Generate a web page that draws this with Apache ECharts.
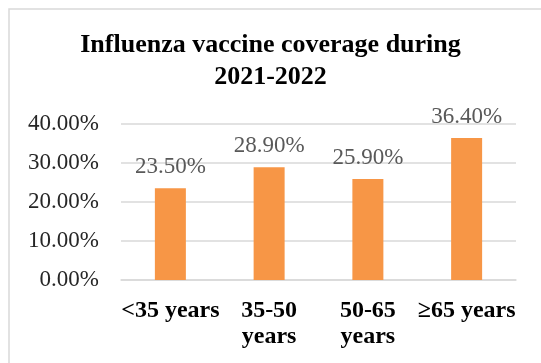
<!DOCTYPE html>
<html>
<head>
<meta charset="utf-8">
<script src="https://cdn.jsdelivr.net/npm/echarts@6/dist/echarts.min.js"></script>
<style>
  html, body { margin: 0; padding: 0; background: #fff; }
  #chartmain { width: 541px; height: 363px; }
</style>
</head>
<body>
<div id="chartmain"></div>
<script>
var categories = ['<35 years', '35-50 years', '50-65 years', '≥65 years'];
var coverage = [0.235, 0.289, 0.259, 0.364];
var yTicks = [0, 0.1, 0.2, 0.3, 0.4];

var serif = '"Liberation Serif", "Times New Roman", serif';

function pct(v) {
	return (v * 100).toFixed(2) + '%';
}

var option = {
	backgroundColor: '#fff',
	animation: false,
	graphic: [{
		type: 'rect',
		shape: { x: 9, y: 9, width: 600, height: 400 },
		style: { fill: 'none', stroke: '#d9d9d9', lineWidth: 1.5 },
		silent: true
	}],
	title: {
		text: 'Influenza vaccine coverage during\n2021-2022',
		left: 'center',
		top: 24,
		textStyle: {
			fontFamily: serif,
			fontWeight: 'bold',
			fontSize: 26,
			lineHeight: 32,
			color: '#000'
		}
	},
	grid: {
		left: 121,
		right: 25,
		top: 124,
		bottom: 83
	},
	xAxis: {
		type: 'category',
		data: categories,
		axisLine: { lineStyle: { color: '#d9d9d9', width: 1.5 } },
		axisTick: { show: false },
		axisLabel: {
			interval: 0,
			margin: 18,
			fontFamily: serif,
			fontWeight: 'bold',
			fontSize: 24,
			lineHeight: 26,
			color: '#000',
			formatter: function (name) {
				return name.indexOf('-') >= 0 ? name.replace(' ', '\n') : name;
			}
		}
	},
	yAxis: {
		type: 'value',
		min: yTicks[0],
		max: yTicks[yTicks.length - 1],
		interval: 0.1,
		axisLine: { show: false },
		axisTick: { show: false },
		splitLine: { lineStyle: { color: '#d9d9d9', width: 1.5 } },
		axisLabel: {
			margin: 22,
			fontFamily: serif,
			fontSize: 23,
			color: '#262626',
			formatter: pct
		}
	},
	series: [{
		type: 'bar',
		data: coverage,
		barWidth: 31,
		itemStyle: { color: '#f79646' },
		label: {
			show: true,
			position: 'top',
			distance: 10,
			fontFamily: serif,
			fontSize: 23,
			color: '#595959',
			formatter: function (p) { return pct(p.value); }
		}
	}]
};

var myChart = echarts.init(document.getElementById('chartmain'));
myChart.setOption(option);
</script>
</body>
</html>
